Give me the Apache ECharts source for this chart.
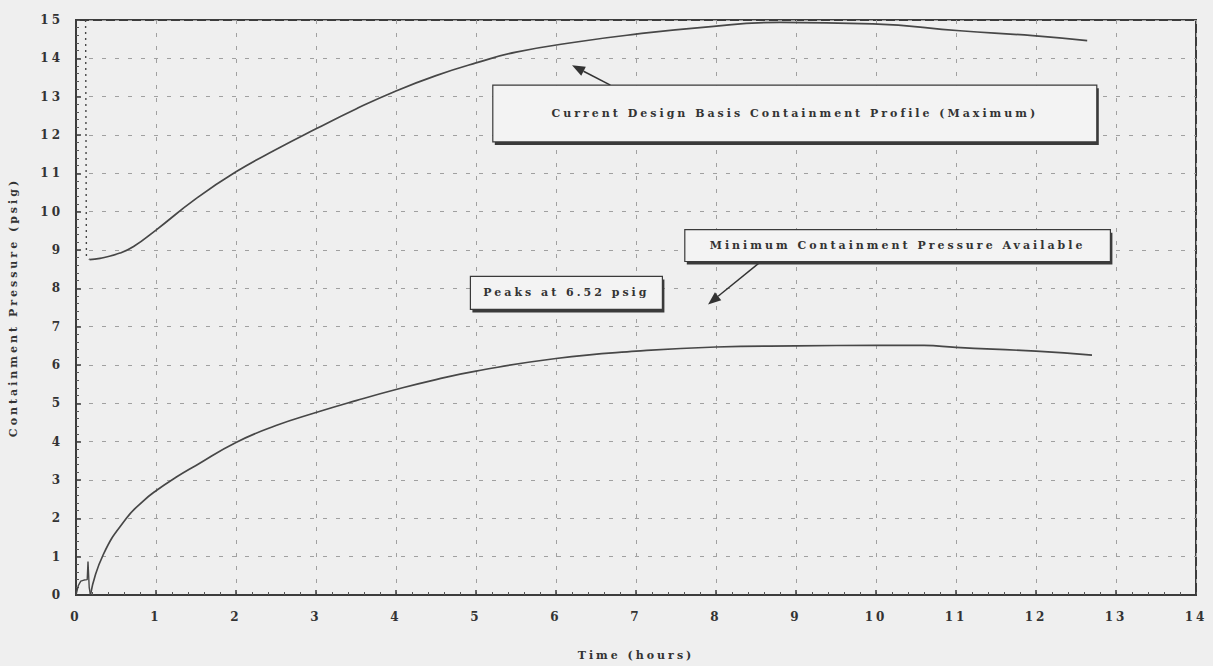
<!DOCTYPE html>
<html>
<head>
<meta charset="utf-8">
<script src="https://cdn.jsdelivr.net/npm/echarts@6/dist/echarts.min.js"></script>
<style>
  html, body { margin: 0; padding: 0; background: #efefef; }
  #chart { width: 1213px; height: 666px; letter-spacing: 3px; }
</style>
</head>
<body>
<div id="chart"></div>
<script>
// ---- data ----
const xTickLabels = ['0','1','2','3','4','5','6','7','8','9','10','11','12','13','14'];
const yTickLabels = ['0','1','2','3','4','5','6','7','8','9','10','11','12','13','14','15'];

// Current design basis containment profile (maximum): initial drop (dotted)
const timeUpperStart = [0.12, 0.13, 0.17];
const pressureUpperStart = [15.0, 8.83, 8.75];

// Current design basis containment profile (maximum): main curve
const timeUpper = [0.17, 0.3, 0.55, 0.72, 1.0, 1.5, 2.0, 2.5, 3.0, 3.5, 4.0, 4.5, 5.0, 5.5, 6.3, 7.0, 7.8, 8.8, 9.96, 11.05, 11.96, 12.64];
const pressureUpper = [8.75, 8.78, 8.92, 9.09, 9.52, 10.34, 11.04, 11.62, 12.16, 12.68, 13.15, 13.55, 13.88, 14.16, 14.44, 14.63, 14.8, 14.94, 14.9, 14.72, 14.59, 14.46];

// Minimum containment pressure available: initial transient
const timeLowerStart = [0.0, 0.03, 0.06, 0.1, 0.14, 0.15, 0.165, 0.18];
const pressureLowerStart = [0.0, 0.25, 0.36, 0.39, 0.4, 0.87, 0.2, 0.0];

// Minimum containment pressure available: main curve
const timeLower = [0.18, 0.34, 0.63, 0.84, 1.0, 1.25, 1.5, 2.0, 2.5, 3.0, 3.5, 4.0, 4.5, 5.0, 6.0, 7.0, 8.0, 9.0, 10.0, 10.6, 11.0, 12.0, 12.7];
const pressureLower = [0.0, 1.05, 2.0, 2.45, 2.72, 3.07, 3.38, 3.98, 4.42, 4.76, 5.07, 5.36, 5.62, 5.84, 6.17, 6.36, 6.47, 6.5, 6.51, 6.51, 6.46, 6.36, 6.26];

const boxTexts = [
  'Current Design Basis Containment Profile (Maximum)',
  'Minimum Containment Pressure Available',
  'Peaks at 6.52 psig'
];

// ---- layout of annotations (data-space placement) ----
const boxLayout = [
  { x0: 5.21, x1: 12.76, y0: 13.3, y1: 11.82 },
  { x0: 7.61, x1: 12.93, y0: 9.53, y1: 8.70 },
  { x0: 4.93, x1: 7.33, y0: 8.31, y1: 7.45 }
];
const arrowLayout = [
  { from: [6.68, 13.30], to: [6.20, 13.82] },
  { from: [8.61, 8.78], to: [7.90, 7.58] }
];

const zip = (xs, ys) => xs.map((x, i) => [x, ys[i]]);

const FONT = 'DejaVu Serif';
const TXT = '#333333';
const LINE = '#474747';

const chart = echarts.init(document.getElementById('chart'), null, { renderer: 'svg' });

const option = {
  backgroundColor: '#efefef',
  animation: false,
  textStyle: { fontFamily: FONT, fontWeight: 'bold', color: TXT },
  grid: {
    left: 76, right: 17, top: 20, bottom: 66,
    show: true, borderColor: '#3c3c3c', borderWidth: 2, backgroundColor: 'transparent'
  },
  xAxis: {
    type: 'value', min: 0, max: 14, interval: 1,
    name: 'Time (hours)', nameLocation: 'middle', nameGap: 55,
    nameTextStyle: { fontFamily: FONT, fontWeight: 'bold', fontSize: 11, color: TXT },
    axisLine: { show: true, lineStyle: { color: '#3c3c3c', width: 2 } },
    axisTick: { show: true, inside: true, length: 5, lineStyle: { color: '#3c3c3c', width: 1.5 } },
    minorTick: { show: true, splitNumber: 5, length: 3, lineStyle: { color: '#555', width: 1 } },
    axisLabel: {
      margin: 16, fontFamily: FONT, fontWeight: 'bold', fontSize: 12, color: TXT,
      formatter: (v) => xTickLabels[Math.round(v)] ?? ''
    },
    splitLine: { show: true, lineStyle: { color: '#a0a0a0', width: 1, type: [4, 9] } }
  },
  yAxis: {
    type: 'value', min: 0, max: 15, interval: 1,
    name: 'Containment Pressure (psig)', nameLocation: 'middle', nameGap: 57, nameRotate: 90,
    nameTextStyle: { fontFamily: FONT, fontWeight: 'bold', fontSize: 11, color: TXT },
    axisLine: { show: true, lineStyle: { color: '#3c3c3c', width: 2 } },
    axisTick: { show: true, inside: true, length: 5, lineStyle: { color: '#3c3c3c', width: 1.5 } },
    minorTick: { show: true, splitNumber: 5, length: 3, lineStyle: { color: '#555', width: 1 } },
    axisLabel: {
      margin: 13, fontFamily: FONT, fontWeight: 'bold', fontSize: 12, color: TXT,
      formatter: (v) => yTickLabels[Math.round(v)] ?? ''
    },
    splitLine: { show: true, lineStyle: { color: '#a0a0a0', width: 1, type: [4, 9] } }
  },
  series: [
    {
      name: 'Design basis (initial)', type: 'line', data: zip(timeUpperStart, pressureUpperStart),
      showSymbol: false, lineStyle: { color: LINE, width: 1.4, type: [2, 4] }
    },
    {
      name: 'Current Design Basis Containment Profile (Maximum)', type: 'line',
      data: zip(timeUpper, pressureUpper), smooth: 0.5,
      showSymbol: false, lineStyle: { color: LINE, width: 1.7 }
    },
    {
      name: 'Minimum (initial)', type: 'line', data: zip(timeLowerStart, pressureLowerStart),
      showSymbol: false, lineStyle: { color: LINE, width: 1.4 }
    },
    {
      name: 'Minimum Containment Pressure Available', type: 'line',
      data: zip(timeLower, pressureLower), smooth: 0.5,
      showSymbol: false, lineStyle: { color: LINE, width: 1.7 }
    }
  ]
};

chart.setOption(option);

// ---- annotation boxes and arrows placed through the chart's own scales ----
const P = (pt) => chart.convertToPixel({ gridIndex: 0 }, pt);
const graphics = [];

arrowLayout.forEach((a) => {
  const p0 = P(a.from), p1 = P(a.to);
  const dx = p1[0] - p0[0], dy = p1[1] - p0[1];
  const L = Math.hypot(dx, dy), ux = dx / L, uy = dy / L;
  const hl = 13, hw = 5;
  const bx = p1[0] - ux * hl, by = p1[1] - uy * hl;
  graphics.push({
    type: 'line', z: 50,
    shape: { x1: p0[0], y1: p0[1], x2: bx, y2: by },
    style: { stroke: '#333', lineWidth: 1.5 }
  });
  graphics.push({
    type: 'polygon', z: 50,
    shape: { points: [[p1[0], p1[1]], [bx - uy * hw, by + ux * hw], [bx + uy * hw, by - ux * hw]] },
    style: { fill: '#333' }
  });
});

boxLayout.forEach((b, i) => {
  const a = P([b.x0, b.y0]), c = P([b.x1, b.y1]);
  const x = a[0], y = a[1], w = c[0] - a[0], h = c[1] - a[1];
  graphics.push({
    type: 'rect', z: 60,
    shape: { x: x + 2, y: y + 3, width: w, height: h },
    style: { fill: '#3a3a3a' }
  });
  graphics.push({
    type: 'rect', z: 61,
    shape: { x: x, y: y, width: w, height: h },
    style: { fill: '#f3f3f3', stroke: '#3a3a3a', lineWidth: 1.2 }
  });
  graphics.push({
    type: 'text', z: 62,
    x: x + w / 2, y: y + h / 2,
    style: {
      text: boxTexts[i], fill: TXT, align: 'center', verticalAlign: 'middle',
      font: 'bold 11px "' + FONT + '"'
    }
  });
});

chart.setOption({ graphic: graphics });
</script>
</body>
</html>
